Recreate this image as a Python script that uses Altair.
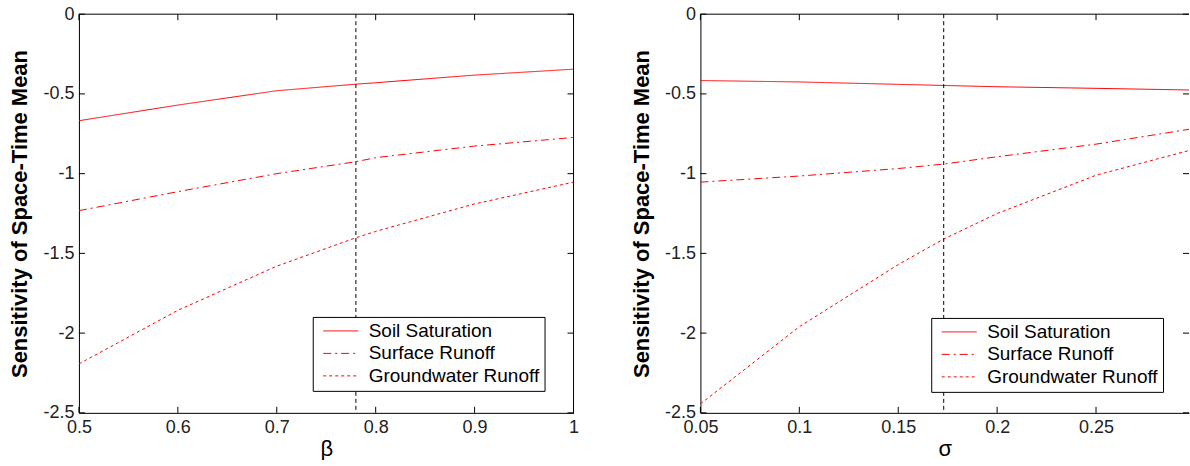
import altair as alt
import pandas as pd

FONT = "Liberation Sans"
RED = "#ff0000"
INK = "#000000"
LABEL_INK = "#222222"

series_names = ["Soil Saturation", "Surface Runoff", "Groundwater Runoff"]
dash_styles = [[1, 0], [8, 4, 2, 4], [3, 3]]

# Left panel: sensitivity versus beta
beta = [0.5, 0.6, 0.7, 0.78, 0.8, 0.9, 1.0]
beta_soil = [-0.668, -0.570, -0.480, -0.439, -0.430, -0.382, -0.345]
beta_surface = [-1.232, -1.113, -1.000, -0.925, -0.900, -0.827, -0.773]
beta_ground = [-2.193, -1.857, -1.580, -1.402, -1.362, -1.190, -1.053]
ref_beta = 0.78

# Right panel: sensitivity versus sigma
sigma = [0.05, 0.10, 0.15, 0.173, 0.20, 0.25, 0.30]
sigma_soil = [-0.416, -0.425, -0.440, -0.447, -0.455, -0.465, -0.476]
sigma_surface = [-1.053, -1.015, -0.968, -0.940, -0.894, -0.815, -0.716]
sigma_ground = [-2.444, -1.960, -1.570, -1.410, -1.250, -1.010, -0.845]
ref_sigma = 0.173

beta_ticks = [0.5, 0.6, 0.7, 0.8, 0.9, 1.0]
sigma_ticks = [0.05, 0.1, 0.15, 0.2, 0.25]
y_ticks = [-2.5, -2.0, -1.5, -1.0, -0.5, 0.0]
beta_domain = [0.5, 1.0]
sigma_domain = [0.05, 0.297]
y_domain = [-2.5, 0.0]
y_title = "Sensitivity of Space-Time Mean"

H = 399
W_LEFT = 495
W_RIGHT = 489


def long_df(xs, soil, surface, ground):
    rows = []
    for name, ys in zip(series_names, [soil, surface, ground]):
        for xv, yv in zip(xs, ys):
            rows.append({"x": xv, "y": yv, "series": name})
    return pd.DataFrame(rows)


def panel(df, xticks, xdomain, xtitle, ref_x, W, legend_x, legend_y, draw_right):
    xscale = alt.Scale(domain=xdomain, nice=False, zero=False)
    yscale = alt.Scale(domain=y_domain, nice=False, zero=False)
    legend = alt.Legend(
        title=None, orient="none", legendX=legend_x, legendY=legend_y,
        fillColor="white", strokeColor=INK, padding=5,
        symbolType="stroke", symbolSize=1225, symbolStrokeWidth=1,
        symbolStrokeColor=RED, symbolOffset=5, clipHeight=18, rowPadding=3.5,
        labelFont=FONT, labelFontSize=19, labelColor=INK, labelOffset=10,
        labelLimit=400, labelExpr="datum.label + '  '",
    )
    lines = alt.Chart(df).mark_line(strokeWidth=1, clip=True).encode(
        x=alt.X("x:Q", scale=xscale, axis=alt.Axis(
            values=xticks, title=xtitle, grid=False, ticks=False,
            domain=True, domainColor=INK, domainWidth=1,
            labelFont=FONT, labelFontSize=18, labelColor=LABEL_INK,
            labelPadding=6, labelFlush=False, labelOverlap=False,
            labelExpr="toString(datum.value)",
            titleFont=FONT, titleFontSize=22, titleFontWeight="normal",
            titleColor=INK, titleBaseline="top", titleY=26)),
        y=alt.Y("y:Q", scale=yscale, axis=alt.Axis(
            values=y_ticks, title=y_title, grid=False, ticks=False,
            domain=True, domainColor=INK, domainWidth=1,
            labelFont=FONT, labelFontSize=18, labelColor=LABEL_INK,
            labelPadding=5, labelFlush=False, labelOverlap=False,
            labelExpr="toString(datum.value)",
            titleFont=FONT, titleFontSize=22, titleFontWeight="bold",
            titleColor=INK, titleBaseline="middle", titleAlign="center",
            titleAngle=270, titleX=-59, titleY=H / 2)),
        color=alt.Color("series:N", scale=alt.Scale(domain=series_names, range=[RED] * 3), legend=legend),
        strokeDash=alt.StrokeDash("series:N", scale=alt.Scale(domain=series_names, range=dash_styles), legend=legend),
        order=alt.Order("x:Q"),
    )
    vline = alt.Chart(pd.DataFrame({"x": [ref_x]})).mark_rule(
        color=INK, strokeDash=[4, 3], strokeWidth=1).encode(x="x:Q")
    xt = pd.DataFrame({"x": xticks})
    yt = pd.DataFrame({"y": y_ticks})
    bottom_ticks = alt.Chart(xt).mark_rule(color=INK, strokeWidth=1).encode(
        x="x:Q", y=alt.value(H - 6), y2=alt.value(H))
    top_ticks = alt.Chart(xt).mark_rule(color=INK, strokeWidth=1).encode(
        x="x:Q", y=alt.value(0), y2=alt.value(6))
    left_ticks = alt.Chart(yt).mark_rule(color=INK, strokeWidth=1).encode(
        y="y:Q", x=alt.value(0), x2=alt.value(6))
    right_ticks = alt.Chart(yt).mark_rule(color=INK, strokeWidth=1).encode(
        y="y:Q", x=alt.value(W - 6), x2=alt.value(W))
    top_line = alt.Chart(pd.DataFrame({"y": [y_domain[1]]})).mark_rule(
        color=INK, strokeWidth=1).encode(y="y:Q")
    layers = [lines, vline, bottom_ticks, top_ticks, left_ticks, right_ticks, top_line]
    if draw_right:
        right_line = alt.Chart(pd.DataFrame({"x": [xdomain[1]]})).mark_rule(
            color=INK, strokeWidth=1).encode(x="x:Q")
        layers.append(right_line)
    return alt.layer(*layers).properties(width=W, height=H)


left = panel(long_df(beta, beta_soil, beta_surface, beta_ground),
             beta_ticks, beta_domain, "\u03b2", ref_beta, W_LEFT, 234, 303, True)
right = panel(long_df(sigma, sigma_soil, sigma_surface, sigma_ground),
              sigma_ticks, sigma_domain, "\u03c3", ref_sigma, W_RIGHT, 231, 304, False)

chart = alt.hconcat(left, right, spacing=127, bounds="flush").resolve_scale(
    x="independent", y="independent", color="independent", strokeDash="independent"
).resolve_legend(
    color="independent", strokeDash="independent"
).properties(
    padding={"left": 8, "top": 5, "right": 0, "bottom": 0},
    background="white",
).configure(font=FONT).configure_view(stroke=None)

chart.save("out.html", embed_options={"renderer": "svg", "actions": False})
